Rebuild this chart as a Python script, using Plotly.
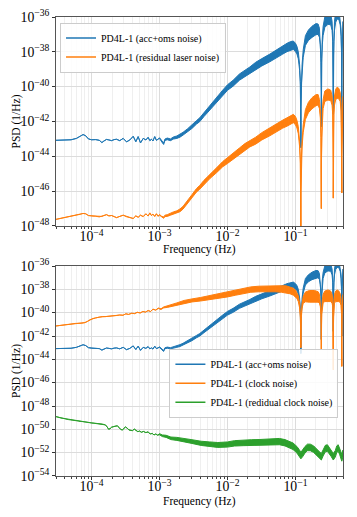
import numpy as np
import plotly.graph_objects as go

# ---------------- data (log10 of PSD in 1/Hz) ----------------
# top panel + blue curve of bottom panel share this frequency grid
f_top = [
    3.0e-5, 4.0e-5, 5.0e-5, 6.0e-5, 6.8e-5,
    7.5e-5, 8.2e-5, 9.0e-5, 1.0e-4, 1.15e-4,
    1.3e-4, 1.42e-4, 1.52e-4, 1.66e-4, 1.8e-4,
    1.97e-4, 2.15e-4, 2.33e-4, 2.6e-4, 2.92e-4,
    3.27e-4, 3.66e-4, 4.1e-4, 4.48e-4, 4.85e-4,
    5.25e-4, 5.75e-4, 6.3e-4, 6.8e-4, 7.2e-4,
    7.6e-4, 8.0e-4, 8.5e-4, 9.0e-4, 9.5e-4,
    1.0e-3, 1.08e-3, 1.15e-3, 1.2e-3, 1.3e-3,
    1.45e-3, 1.6e-3, 1.8e-3, 2.0e-3, 2.22e-3,
    2.6e-3, 3.0e-3, 3.5e-3, 3.9e-3, 4.5e-3,
    5.5e-3, 6.9e-3, 8.5e-3, 1.0e-2, 1.21e-2,
    1.5e-2, 1.8e-2, 2.13e-2, 2.6e-2, 3.2e-2,
    4.2e-2, 5.5e-2, 6.5e-2, 7.5e-2, 8.5e-2,
    9.3e-2, 0.100, 0.105, 0.110, 0.115,
    0.118, 0.1195, 0.120, 0.1205, 0.122,
    0.125, 0.130, 0.140, 0.155, 0.175,
    0.200, 0.215, 0.225, 0.232, 0.237,
    0.2395, 0.240, 0.2405, 0.243, 0.248,
    0.255, 0.270, 0.300, 0.330, 0.345,
    0.353, 0.357, 0.3595, 0.360, 0.3605,
    0.363, 0.367, 0.375, 0.390, 0.410,
    0.435, 0.455, 0.468, 0.475, 0.4795,
    0.480, 0.4805, 0.485, 0.492, 0.500,
]
acc_oms = [
    -43.08, -43.08, -43.05, -42.97, -42.85,
    -42.75, -42.82, -43.00, -43.05, -43.04,
    -43.08, -43.21, -43.12, -43.03, -43.06,
    -43.10, -43.04, -43.02, -43.10, -42.97,
    -43.17, -43.06, -42.85, -43.16, -42.87,
    -43.23, -42.97, -43.06, -42.91, -43.10,
    -43.02, -43.12, -42.87, -43.08, -43.02,
    -42.95, -43.15, -43.28, -43.05, -43.00,
    -43.05, -42.95, -42.90, -42.82, -42.70,
    -42.50, -42.30, -42.05, -41.90, -41.60,
    -41.20, -40.78, -40.35, -40.05, -39.80,
    -39.45, -39.25, -39.06, -38.80, -38.60,
    -38.35, -38.05, -37.90, -37.75, -37.65,
    -37.62, -37.75, -37.90, -38.20, -38.90,
    -39.80, -41.20, -43.50, -41.20, -39.80,
    -38.90, -38.10, -37.35, -37.05, -36.85,
    -36.70, -36.70, -36.90, -37.40, -38.50,
    -40.30, -42.30, -40.30, -38.50, -37.40,
    -36.80, -36.30, -36.10, -36.15, -36.50,
    -37.20, -38.30, -39.90, -41.60, -39.90,
    -38.30, -37.20, -36.50, -36.00, -35.80,
    -35.85, -36.20, -36.90, -37.90, -39.70,
    -42.00, -39.70, -37.90, -37.00, -36.50,
]
laser_resid = [
    -47.62, -47.52, -47.45, -47.38, -47.33,
    -47.28, -47.30, -47.40, -47.42, -47.44,
    -47.48, -47.45, -47.40, -47.35, -47.42,
    -47.40, -47.46, -47.52, -47.45, -47.38,
    -47.47, -47.50, -47.57, -47.42, -47.50,
    -47.38, -47.46, -47.30, -47.43, -47.25,
    -47.40, -47.32, -47.45, -47.30, -47.44,
    -47.36, -47.48, -47.52, -47.42, -47.40,
    -47.33, -47.25, -47.20, -47.10, -46.95,
    -46.60, -46.30, -45.95, -45.78, -45.50,
    -45.15, -44.80, -44.45, -44.25, -44.00,
    -43.70, -43.45, -43.27, -43.10, -42.85,
    -42.60, -42.30, -42.15, -42.03, -41.90,
    -41.83, -41.95, -42.15, -42.50, -43.30,
    -44.30, -46.00, -49.50, -46.00, -44.30,
    -43.30, -42.40, -41.60, -41.20, -40.95,
    -40.78, -40.75, -41.00, -41.60, -42.80,
    -44.60, -47.00, -44.60, -42.80, -41.60,
    -41.00, -40.55, -40.45, -40.50, -40.80,
    -41.40, -42.60, -44.30, -46.40, -44.30,
    -42.60, -41.40, -40.80, -40.45, -40.35,
    -40.40, -40.60, -41.20, -42.30, -44.00,
    -46.10, -44.00, -42.30, -41.30, -40.80,
]
# half-width (decades) of the noisy band of the two top series
band_top = [
    0.00, 0.00, 0.00, 0.00, 0.00,
    0.00, 0.00, 0.00, 0.00, 0.00,
    0.00, 0.00, 0.00, 0.00, 0.00,
    0.00, 0.00, 0.00, 0.00, 0.00,
    0.00, 0.00, 0.00, 0.00, 0.00,
    0.00, 0.00, 0.00, 0.00, 0.00,
    0.00, 0.00, 0.00, 0.00, 0.00,
    0.02, 0.03, 0.04, 0.04, 0.05,
    0.05, 0.06, 0.07, 0.08, 0.08,
    0.09, 0.10, 0.10, 0.11, 0.12,
    0.13, 0.14, 0.15, 0.16, 0.17,
    0.18, 0.18, 0.19, 0.20, 0.21,
    0.22, 0.22, 0.23, 0.24, 0.24,
    0.24, 0.24, 0.22, 0.20, 0.16,
    0.10, 0.04, 0.00, 0.04, 0.10,
    0.16, 0.22, 0.28, 0.30, 0.32,
    0.32, 0.30, 0.26, 0.20, 0.12,
    0.04, 0.00, 0.04, 0.12, 0.20,
    0.26, 0.30, 0.32, 0.30, 0.26,
    0.20, 0.12, 0.04, 0.00, 0.04,
    0.12, 0.20, 0.26, 0.30, 0.32,
    0.30, 0.26, 0.20, 0.12, 0.04,
    0.00, 0.04, 0.12, 0.20, 0.24,
]

f_clock = [
    3.0e-5, 3.5e-5, 4.0e-5, 4.5e-5, 5.0e-5,
    5.8e-5, 6.5e-5, 7.2e-5, 8.0e-5, 8.7e-5,
    9.5e-5, 1.05e-4, 1.15e-4, 1.3e-4, 1.45e-4,
    1.6e-4, 1.8e-4, 2.0e-4, 2.3e-4, 2.6e-4,
    2.9e-4, 3.2e-4, 3.5e-4, 3.9e-4, 4.3e-4,
    4.7e-4, 5.2e-4, 5.7e-4, 6.2e-4, 6.8e-4,
    7.4e-4, 8.0e-4, 8.8e-4, 9.6e-4, 1.05e-3,
    1.15e-3, 1.3e-3, 1.5e-3, 1.8e-3, 2.3e-3,
    3.0e-3, 4.0e-3, 5.5e-3, 7.2e-3, 1.0e-2,
    1.3e-2, 1.7e-2, 2.2e-2, 2.9e-2, 3.7e-2,
    5.0e-2, 6.2e-2, 7.3e-2, 8.3e-2, 9.3e-2,
    0.100, 0.105, 0.110, 0.115, 0.118,
    0.1195, 0.120, 0.1205, 0.122, 0.125,
    0.130, 0.140, 0.160, 0.190, 0.215,
    0.225, 0.232, 0.237, 0.2395, 0.240,
    0.2405, 0.243, 0.248, 0.255, 0.270,
    0.300, 0.330, 0.345, 0.353, 0.357,
    0.3595, 0.360, 0.3605, 0.363, 0.367,
    0.375, 0.390, 0.410, 0.435, 0.455,
    0.468, 0.475, 0.4795, 0.480, 0.4805,
    0.485, 0.492, 0.500,
]
clock = [
    -41.14, -41.10, -41.05, -41.00, -40.97,
    -40.92, -40.90, -40.90, -40.85, -40.75,
    -40.60, -40.50, -40.45, -40.38, -40.33,
    -40.34, -40.30, -40.28, -40.25, -40.20,
    -40.22, -40.10, -40.15, -40.05, -40.08,
    -39.97, -40.02, -39.90, -39.95, -39.82,
    -39.90, -39.70, -39.78, -39.62, -39.70,
    -39.55, -39.50, -39.40, -39.25, -39.06,
    -38.95, -38.85, -38.72, -38.63, -38.45,
    -38.30, -38.15, -38.02, -37.97, -37.95,
    -37.95, -37.97, -38.00, -38.08, -38.20,
    -38.35, -38.50, -38.80, -39.40, -40.30,
    -41.50, -43.00, -41.50, -40.30, -39.40,
    -38.90, -38.65, -38.60, -38.60, -38.65,
    -38.80, -39.20, -40.00, -41.60, -43.20,
    -41.60, -40.00, -39.20, -38.80, -38.60,
    -38.55, -38.60, -38.80, -39.20, -40.20,
    -42.00, -44.90, -42.00, -40.20, -39.20,
    -38.80, -38.60, -38.55, -38.60, -38.75,
    -39.10, -40.00, -42.00, -44.60, -42.00,
    -40.00, -39.20, -38.80,
]
band_clock = [
    0.00, 0.00, 0.00, 0.00, 0.00,
    0.00, 0.00, 0.00, 0.00, 0.00,
    0.00, 0.00, 0.00, 0.00, 0.00,
    0.00, 0.00, 0.00, 0.00, 0.00,
    0.00, 0.00, 0.00, 0.00, 0.00,
    0.00, 0.00, 0.00, 0.00, 0.00,
    0.00, 0.00, 0.00, 0.02, 0.03,
    0.04, 0.05, 0.07, 0.09, 0.11,
    0.13, 0.15, 0.17, 0.19, 0.20,
    0.21, 0.22, 0.23, 0.24, 0.25,
    0.26, 0.28, 0.30, 0.30, 0.30,
    0.30, 0.28, 0.25, 0.20, 0.12,
    0.05, 0.00, 0.05, 0.12, 0.20,
    0.30, 0.42, 0.50, 0.50, 0.45,
    0.38, 0.28, 0.15, 0.05, 0.00,
    0.05, 0.15, 0.28, 0.38, 0.45,
    0.50, 0.45, 0.38, 0.28, 0.15,
    0.05, 0.00, 0.05, 0.15, 0.28,
    0.38, 0.45, 0.50, 0.45, 0.38,
    0.28, 0.15, 0.05, 0.00, 0.05,
    0.15, 0.28, 0.35,
]

f_resid = [
    3.0e-5, 3.5e-5, 4.0e-5, 4.6e-5, 5.3e-5,
    6.0e-5, 6.8e-5, 7.5e-5, 8.3e-5, 9.2e-5,
    1.0e-4, 1.1e-4, 1.2e-4, 1.3e-4, 1.45e-4,
    1.6e-4, 1.7e-4, 1.78e-4, 1.87e-4, 1.97e-4,
    2.1e-4, 2.25e-4, 2.4e-4, 2.55e-4, 2.7e-4,
    2.85e-4, 3.0e-4, 3.15e-4, 3.35e-4, 3.55e-4,
    3.8e-4, 4.0e-4, 4.25e-4, 4.5e-4, 4.8e-4,
    5.1e-4, 5.4e-4, 5.8e-4, 6.3e-4, 6.8e-4,
    7.3e-4, 7.8e-4, 8.3e-4, 8.8e-4, 9.4e-4,
    1.0e-3, 1.1e-3, 1.25e-3, 1.47e-3, 1.8e-3,
    2.3e-3, 3.0e-3, 4.1e-3, 5.5e-3, 7.2e-3,
    1.0e-2, 1.27e-2, 1.7e-2, 2.24e-2, 3.0e-2,
    3.7e-2, 4.7e-2, 5.8e-2, 7.0e-2, 8.0e-2,
    9.2e-2, 0.105, 0.113, 0.120, 0.128,
    0.138, 0.150, 0.165, 0.185, 0.205,
    0.225, 0.240, 0.255, 0.275, 0.295,
    0.315, 0.335, 0.360, 0.385, 0.405,
    0.425, 0.445, 0.465, 0.480, 0.490,
    0.500,
]
clock_resid = [
    -48.91, -49.02, -49.10, -49.17, -49.22,
    -49.25, -49.30, -49.34, -49.38, -49.42,
    -49.45, -49.47, -49.48, -49.50, -49.55,
    -49.62, -49.80, -49.99, -49.95, -49.82,
    -49.77, -49.72, -49.70, -49.85, -50.02,
    -50.05, -49.90, -49.80, -49.90, -50.05,
    -50.10, -50.11, -49.98, -50.05, -50.20,
    -50.15, -50.25, -50.18, -50.28, -50.22,
    -50.40, -50.35, -50.48, -50.40, -50.50,
    -50.42, -50.55, -50.60, -50.77, -50.82,
    -50.91, -51.05, -51.20, -51.28, -51.34,
    -51.30, -51.20, -51.16, -51.14, -51.12,
    -51.12, -51.08, -51.05, -51.15, -51.28,
    -51.45, -51.75, -52.00, -52.25, -52.05,
    -51.75, -51.55, -51.55, -51.70, -51.95,
    -52.20, -52.35, -52.00, -51.65, -51.60,
    -51.80, -52.05, -52.35, -52.10, -51.70,
    -51.60, -51.85, -52.20, -52.45, -52.30,
    -52.05,
]
band_resid = [
    0.00, 0.00, 0.00, 0.00, 0.00,
    0.00, 0.00, 0.00, 0.00, 0.00,
    0.00, 0.00, 0.00, 0.00, 0.00,
    0.00, 0.00, 0.00, 0.00, 0.00,
    0.00, 0.00, 0.00, 0.00, 0.00,
    0.00, 0.00, 0.00, 0.00, 0.00,
    0.00, 0.00, 0.00, 0.00, 0.00,
    0.00, 0.00, 0.00, 0.00, 0.00,
    0.00, 0.00, 0.00, 0.00, 0.00,
    0.05, 0.07, 0.09, 0.11, 0.13,
    0.14, 0.16, 0.18, 0.20, 0.21,
    0.22, 0.23, 0.24, 0.25, 0.25,
    0.26, 0.26, 0.27, 0.27, 0.28,
    0.28, 0.28, 0.28, 0.28, 0.28,
    0.28, 0.28, 0.28, 0.28, 0.28,
    0.28, 0.28, 0.28, 0.28, 0.28,
    0.28, 0.28, 0.28, 0.28, 0.28,
    0.28, 0.28, 0.28, 0.28, 0.28,
    0.28,
]

names_top = ["PD4L-1 (acc+oms noise)", "PD4L-1 (residual laser noise)"]
names_bot = ["PD4L-1 (acc+oms noise)", "PD4L-1 (clock noise)",
             "PD4L-1 (redidual clock noise)"]
x_title = "Frequency (Hz)"
y_title = "PSD (1/Hz)"

BLUE, ORANGE, GREEN = "#1f77b4", "#ff7f0e", "#2ca02c"
FONT = "Liberation Serif, Times New Roman, serif"


def band(f, c, w, color, xa, ya):
    f = np.asarray(f, float)
    c = np.asarray(c, float)
    w = np.asarray(w, float)
    x = np.concatenate([f, f[::-1]])
    y = 10.0 ** np.concatenate([c - w, (c + w)[::-1]])
    return go.Scatter(x=x, y=y, mode="lines", fill="toself", fillcolor=color,
                      line=dict(color=color, width=1.0), hoverinfo="skip",
                      showlegend=False, xaxis=xa, yaxis=ya)


def legend_entry(name, color, xa, ya, leg):
    return go.Scatter(x=[None], y=[None], mode="lines", name=name,
                      line=dict(color=color, width=1.5), xaxis=xa, yaxis=ya,
                      legend=leg)


fig = go.Figure()
# top panel
fig.add_trace(band(f_top, acc_oms, band_top, BLUE, "x", "y"))
fig.add_trace(band(f_top, laser_resid, band_top, ORANGE, "x", "y"))
fig.add_trace(legend_entry(names_top[0], BLUE, "x", "y", "legend"))
fig.add_trace(legend_entry(names_top[1], ORANGE, "x", "y", "legend"))
# bottom panel
fig.add_trace(band(f_top, acc_oms, band_top, BLUE, "x2", "y2"))
fig.add_trace(band(f_clock, clock, band_clock, ORANGE, "x2", "y2"))
fig.add_trace(band(f_resid, clock_resid, band_resid, GREEN, "x2", "y2"))
fig.add_trace(legend_entry(names_bot[0], BLUE, "x2", "y2", "legend2"))
fig.add_trace(legend_entry(names_bot[1], ORANGE, "x2", "y2", "legend2"))
fig.add_trace(legend_entry(names_bot[2], GREEN, "x2", "y2", "legend2"))

xcommon = dict(
    type="log", range=[np.log10(3e-5), np.log10(0.5)], dtick=1,
    exponentformat="power", showexponent="all", automargin=False,
    ticks="outside", ticklen=3.5, tickwidth=0.8, tickcolor="#333",
    ticklabelstandoff=-5,
    showline=True, linecolor="#555", linewidth=0.8, mirror=True,
    showgrid=True, gridcolor="#dcdcdc", gridwidth=0.8, zeroline=False,
    minor=dict(dtick="D1", showgrid=True, gridcolor="#efefef", gridwidth=0.6,
               ticks="outside", ticklen=2, tickcolor="#444"),
    tickfont=dict(size=11, color="black"),
)
ycommon = dict(
    type="log", dtick=2, exponentformat="power", showexponent="all", automargin=False,
    ticks="outside", ticklen=3.5, tickwidth=0.8, tickcolor="#333",
    showline=True, linecolor="#555", linewidth=0.8, mirror=True,
    showgrid=True, gridcolor="#dcdcdc", gridwidth=0.8, zeroline=False,
    tickfont=dict(size=11, color="black"),
)

legcommon = dict(bgcolor="rgba(255,255,255,0.85)", bordercolor="#cccccc",
                 borderwidth=1, font=dict(size=10, color="black", family=FONT),
                 tracegroupgap=0)

title_font = dict(size=11.5, color="black", family=FONT)
annotations = [
    # axis titles (placed in paper coordinates of the plotting area)
    dict(text=x_title, x=0.5, y=0.4924, xref="paper", yref="paper",
         xanchor="center", yanchor="middle", showarrow=False, font=title_font),
    dict(text=x_title, x=0.5, y=-0.0566, xref="paper", yref="paper",
         xanchor="center", yanchor="middle", showarrow=False, font=title_font),
    dict(text=y_title, x=-0.136, y=0.7723, xref="paper", yref="paper",
         xanchor="center", yanchor="middle", textangle=-90, showarrow=False,
         font=title_font),
    dict(text=y_title, x=-0.136, y=0.2288, xref="paper", yref="paper",
         xanchor="center", yanchor="middle", textangle=-90, showarrow=False,
         font=title_font),
]

fig.update_layout(
    width=357, height=517,
    margin=dict(l=56, r=14, t=17, b=41, autoexpand=False),
    paper_bgcolor="white", plot_bgcolor="white",
    font=dict(family=FONT, size=11, color="black"),
    xaxis=dict(xcommon, domain=[0, 1], anchor="y"),
    yaxis=dict(ycommon, domain=[0.5447, 1], anchor="x", range=[-48, -36]),
    xaxis2=dict(xcommon, domain=[0, 1], anchor="y2"),
    yaxis2=dict(ycommon, domain=[0, 0.4575], anchor="x2", range=[-54, -36]),
    legend=dict(legcommon, x=0.014, y=0.988, xanchor="left", yanchor="top"),
    legend2=dict(legcommon, x=0.984, y=0.277, xanchor="right", yanchor="top"),
    showlegend=True,
    annotations=annotations,
)

# remove the browser's default 8px page margin so the figure sits at (0, 0)
fig.write_html("out.html",
               config={"displayModeBar": False},
               post_script="document.body.style.margin='0px';")
